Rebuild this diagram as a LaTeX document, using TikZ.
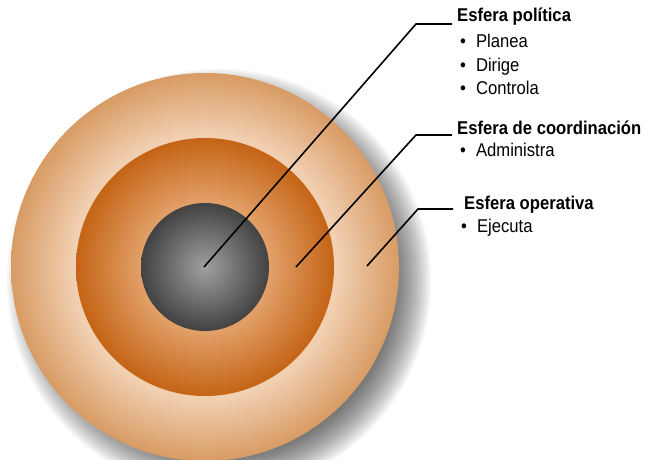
\documentclass[tikz,border=0pt]{standalone}
\usepackage{fontspec}
\setmainfont{Liberation Sans}[FakeStretch=0.9]
\usepackage{tikz}
\usetikzlibrary{positioning}
\usepackage{xcolor}
\definecolor{ringlight}{RGB}{241,208,178}
\definecolor{ringedge}{RGB}{216,155,100}
\definecolor{midlight}{RGB}{226,160,104}
\definecolor{midedge}{RGB}{196,100,22}
\definecolor{corelight}{RGB}{160,160,160}
\definecolor{coreedge}{RGB}{66,66,66}
\pgfdeclareradialshading{ringshade}{\pgfpointorigin}{color(0bp)=(ringlight); color(17bp)=(ringlight); color(25bp)=(ringedge); color(50bp)=(ringedge)}
\pgfdeclareradialshading{midshade}{\pgfpointorigin}{color(0bp)=(midlight); color(12.5bp)=(midlight); color(25bp)=(midedge); color(50bp)=(midedge)}
\pgfdeclareradialshading{coreshade}{\pgfpointorigin}{color(0bp)=(corelight); color(25bp)=(coreedge); color(50bp)=(coreedge)}

\begin{document}
\begin{tikzpicture}[x=1pt,y=-1pt,
  head/.style={anchor=base west,inner sep=0pt,font=\fontsize{18.5}{22}\selectfont\bfseries},
  item/.style={anchor=base west,inner sep=0pt,font=\fontsize{18.5}{22}\selectfont},
  lead/.style={line width=1.6pt}]
\useasboundingbox (0,0) rectangle (645,460);
\foreach \k in {0,...,18}
    \fill[black,opacity=0.04] (219,281) circle ({212-\k*2});
\shade[shading=ringshade] (205,267) circle (194);
\shade[shading=midshade] (205,267) circle (129);
\shade[shading=coreshade] (205,267) circle (64);
\coordinate (polpt) at (204,267);
\coordinate (polbend) at (416,24);
\coordinate (polend) at (452,24);
\coordinate (coopt) at (296,267);
\coordinate (coobend) at (416,135);
\coordinate (cooend) at (452,135);
\coordinate (opept) at (367,266);
\coordinate (opebend) at (418,209);
\coordinate (opeend) at (453,209);
\draw[lead] (polpt) -- (polbend) -- (polend);
\draw[lead] (coopt) -- (coobend) -- (cooend);
\draw[lead] (opept) -- (opebend) -- (opeend);
\node[head] (polhead) at (457,22) {Esfera política};
\foreach \t/\y [count=\k] in {Planea/47.5,Dirige/71,Controla/94.5}
    \node[item] (pol\k) at (460,\y) {\textbullet\hspace{10pt}\t};
\node[head] (coohead) at (457,134) {Esfera de coordinación};
\node[item] (coo1) at (460,156) {\textbullet\hspace{10pt}Administra};
\node[head] (opehead) at (464,209) {Esfera operativa};
\node[item] (ope1) at (461,232) {\textbullet\hspace{10pt}Ejecuta};
\end{tikzpicture}
\end{document}
